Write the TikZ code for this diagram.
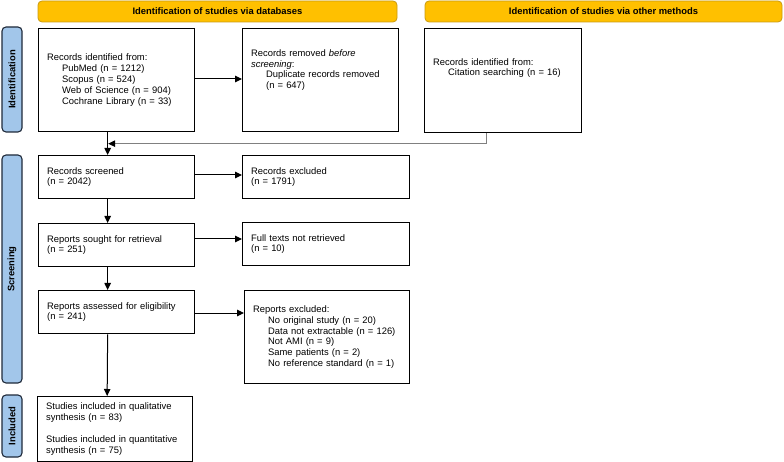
\documentclass[tikz,border=0pt]{standalone}
\usepackage{fontspec}
\setmainfont{Liberation Sans}
\usetikzlibrary{arrows.meta,calc}
\definecolor{bannerfill}{HTML}{FFC000}
\definecolor{bannerdraw}{HTML}{C99A10}
\definecolor{sidefill}{HTML}{A2C6EA}
\definecolor{sidedraw}{HTML}{1F2A3A}
\definecolor{linkgray}{HTML}{808080}
\tikzset{
  txt/.style={font=\fontsize{9.4}{10.8}\selectfont},
  box/.style={txt, draw=black, line width=1.3pt, inner xsep=8.5pt, inner ysep=0pt,
    align=left, anchor=north west},
  banner/.style={font=\bfseries\fontsize{9.4}{10.8}\selectfont, draw=bannerdraw, fill=bannerfill,
    line width=0.8pt, rounded corners=4pt, minimum height=21pt, inner sep=0pt},
  sidebar/.style={font=\bfseries\fontsize{9.4}{10.8}\selectfont, draw=sidedraw, fill=sidefill,
    line width=1.1pt, rounded corners=4pt, rotate=90, minimum height=20pt, inner sep=0pt},
  arr/.style={draw=black, line width=1pt, -{Triangle[length=7pt,width=6.5pt]}},
  grayarr/.style={draw=linkgray, line width=1pt, -{Triangle[length=7pt,width=6.5pt,fill=black,color=black]}},
}
\newcommand{\ind}{\hspace*{15pt}}
\begin{document}
\begin{tikzpicture}[x=1pt,y=-1pt]
\useasboundingbox (0,0) rectangle (784,462);

% banners
\node[banner, minimum width=359pt] (bl) at (217.5,11.5) {Identification of studies via databases};
\node[banner, minimum width=357pt] (br) at (603.5,11.5) {Identification of studies via other methods};

% side bars
\node[sidebar, minimum width=105pt] (sid) at (12,79.5) {Identification};
\node[sidebar, minimum width=228pt] (ssc) at (12,269) {Screening};
\node[sidebar, minimum width=62pt] (sin) at (12,426) {Included};

% boxes
\node[box, text width=139pt, minimum height=103pt] (b1) at (38,28)
  {Records identified from:\\
   \ind PubMed (n = 1212)\\
   \ind Scopus (n = 524)\\
   \ind Web of Science (n = 904)\\
   \ind Cochrane Library (n = 33)};
\node[box, text width=139pt, minimum height=103pt] (b2) at (242,28)
  {Records removed \textit{before}\\
   \textit{screening}:\\
   \ind Duplicate records removed\\
   \ind (n = 647)\rule[-22pt]{0pt}{0pt}};
\node[box, text width=140pt, minimum height=104pt] (b3) at (424,28)
  {Records identified from:\\
   \ind Citation searching (n = 16)\rule[-27pt]{0pt}{0pt}};

\node[box, text width=139pt, minimum height=43pt] (b4) at (38,155)
  {Records screened\\(n = 2042)};
\node[box, text width=150pt, minimum height=43pt] (b5) at (242,155)
  {Records excluded\\(n = 1791)};

\node[box, text width=139pt, minimum height=43pt] (b6) at (38,223)
  {Reports sought for retrieval\\(n = 251)};
\node[box, text width=150pt, minimum height=43pt] (b7) at (242,222)
  {Full texts not retrieved\\(n = 10)};

\node[box, text width=139pt, minimum height=43pt] (b8) at (38,290)
  {Reports assessed for eligibility\\(n = 241)};
\node[box, text width=148pt, minimum height=93pt] (b9) at (244,290)
  {Reports excluded:\\
   \ind No original study (n = 20)\\
   \ind Data not extractable (n = 126)\\
   \ind Not AMI (n = 9)\\
   \ind Same patients (n = 2)\\
   \ind No reference standard (n = 1)};

\node[box, text width=138pt, minimum height=65pt] (b10) at (37,396)
  {Studies included in qualitative\\
   synthesis (n = 83)\\[11pt]
   Studies included in quantitative\\
   synthesis (n = 75)};

% horizontal connectors
\draw[arr] (b1.east |- 0,79) -- (b2.west |- 0,79);
\draw[arr] (b4.east |- 0,175) -- (b5.west |- 0,175);
\draw[arr] (b6.east |- 0,239) -- (b7.west |- 0,239);
\draw[arr] (b8.east |- 0,313) -- (b9.west |- 0,313);

% vertical connectors
\draw[arr] ([xshift=-9pt]b1.south) -- ([xshift=-9pt]b4.north);
\draw[arr] ([xshift=-9pt]b4.south) -- ([xshift=-9pt]b6.north);
\draw[arr] ([xshift=-9pt]b6.south) -- ([xshift=-9pt]b8.north);
\draw[arr] ([xshift=-9pt]b8.south) -- ([xshift=-8pt]b10.north);

% other methods merge
\coordinate (j) at ($([xshift=-8.5pt]b1.south)!0.5!([xshift=-8.5pt]b4.north)$);
\draw[grayarr] ([xshift=-16.5pt]b3.south) |- (j);
\end{tikzpicture}
\end{document}
